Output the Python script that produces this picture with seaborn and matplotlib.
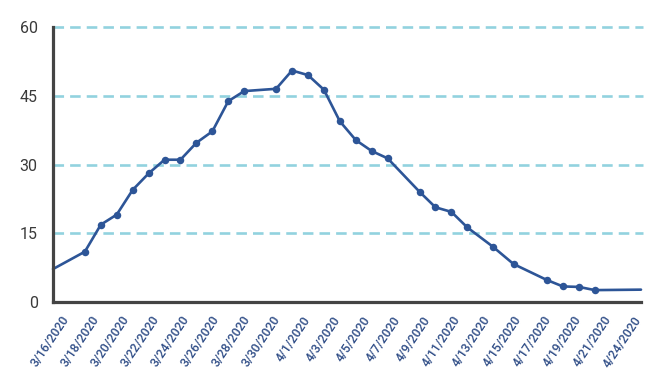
import matplotlib
matplotlib.use("Agg")
import matplotlib.pyplot as plt
import seaborn as sns
import pandas as pd

# ---- data ----
days = [0, 2, 3, 4, 5, 6, 7, 8, 9, 10, 11, 12, 14, 15, 16, 17, 18, 19, 20, 21,
        23, 24, 25, 26, 27.6, 28.9, 31, 32, 33, 34, 36.9]
values = [7.2, 11.0, 16.9, 19.1, 24.5, 28.1, 31.1, 31.1, 34.8, 37.3, 43.9, 46.1,
          46.6, 50.6, 49.6, 46.4, 39.5, 35.4, 33.0, 31.4, 24.1, 20.7, 19.7, 16.3,
          12.1, 8.3, 4.8, 3.4, 3.3, 2.6, 2.7]
tick_labels = ["3/16/2020", "3/18/2020", "3/20/2020", "3/22/2020", "3/24/2020",
               "3/26/2020", "3/28/2020", "3/30/2020", "4/1/2020", "4/3/2020",
               "4/5/2020", "4/7/2020", "4/9/2020", "4/11/2020", "4/13/2020",
               "4/15/2020", "4/17/2020", "4/19/2020", "4/21/2020", "4/24/2020"]
y_ticks = [0, 15, 30, 45, 60]

df = pd.DataFrame({"day": days, "value": values})

sns.set_theme(style="white")
plt.rcParams["font.family"] = ["Roboto", "DejaVu Sans"]

fig = plt.figure(figsize=(6.66, 3.81), dpi=100)
ax = fig.add_axes([53 / 666, 1 - 302 / 381, 588 / 666, (302 - 27.5) / 381])

line_color = "#2D5597"
n = len(df)
sns.lineplot(data=df, x="day", y="value", ax=ax, color=line_color, linewidth=1.9,
             marker="o", markersize=5.4, markeredgewidth=0, markevery=list(range(1, n - 1)))
for l in ax.lines:
    l.set_clip_on(False)

ax.set_xlim(0, 36.9)
ax.set_ylim(0, 60)
ax.set_yticks(y_ticks)
ax.set_yticklabels([str(v) for v in y_ticks])

# evenly spaced category labels
tick_pos = [0.85 + 2.0 * i * (35.9 / 38.0) for i in range(len(tick_labels))]
ax.set_xticks(tick_pos)
ax.set_xticklabels(tick_labels, rotation=56, ha="right", va="center",
                   rotation_mode="anchor", fontsize=8.8, color="#2E4C86",
                   fontweight="medium")

ax.tick_params(axis="x", length=0, pad=11)
ax.tick_params(axis="y", length=0, pad=11, labelsize=11.5, labelcolor="#3a3a3a")

ax.set_xlabel("")
ax.set_ylabel("")

for y in y_ticks[1:]:
    ax.axhline(y, color="#92D2DF", linewidth=1.9, linestyle=(0, (4.0, 2.3)), zorder=0,
               xmax=1.004, clip_on=False)

for s in ["top", "right"]:
    ax.spines[s].set_visible(False)
for s in ["left", "bottom"]:
    ax.spines[s].set_color("#444444")
    ax.spines[s].set_linewidth(2.3)
ax.grid(False)

fig.savefig("out.png", dpi=100)
